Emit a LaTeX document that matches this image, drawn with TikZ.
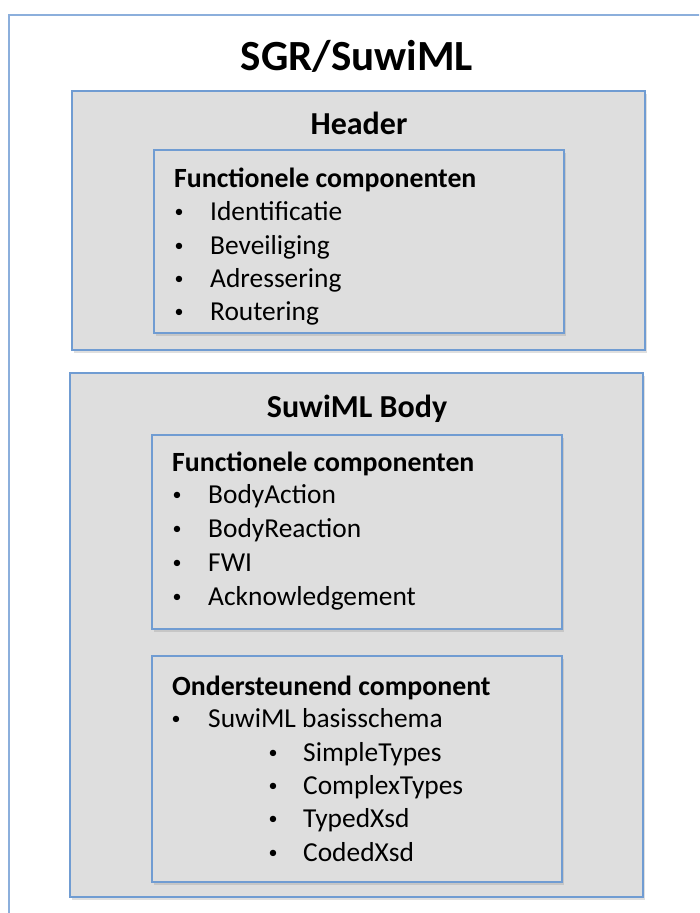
\documentclass[tikz,border=0pt]{standalone}
\usepackage{fontspec}
\setmainfont{Carlito}
\usetikzlibrary{shadows}
\definecolor{boxfill}{RGB}{222,222,222}
\definecolor{boxline}{RGB}{112,156,210}
\definecolor{outerline}{RGB}{140,175,220}
\tikzset{
  panel/.style={draw=boxline, line width=2pt, fill=boxfill, rectangle, inner sep=0pt,
    drop shadow={opacity=0.25, shadow xshift=2pt, shadow yshift=-3pt}},
  titletext/.style={font=\fontsize{43}{50}\selectfont\bfseries, anchor=base},
  headtext/.style={font=\fontsize{32}{38}\selectfont\bfseries, anchor=base},
  subhead/.style={font=\fontsize{27.8}{33}\selectfont\bfseries, anchor=base west, inner sep=0pt},
  itemtext/.style={font=\fontsize{27.4}{33}\selectfont, anchor=base west, inner sep=0pt},
  bul/.style={font=\fontsize{18}{20}\selectfont, anchor=base, inner sep=0pt, yshift=2.3pt},
}
\begin{document}
\begin{tikzpicture}[x=1pt,y=-1pt]
\useasboundingbox (0,0) rectangle (699,913);
\begin{scope}
\clip (0,0) rectangle (699,913);
\draw[outerline, line width=1.3pt, fill=white] (9,15) rectangle (760,960);
\end{scope}
\node[titletext] (title) at (357,70) {SGR/SuwiML};

% Header
\node[panel, minimum width=573pt, minimum height=259pt] (header) at (358.5,220.5) {};
\node[headtext] (headerlbl) at (359,134) {Header};
\node[panel, minimum width=410pt, minimum height=183pt] (hinner) at (359,241.5) {};
\node[subhead] (hfc) at (174,187) {Functionele componenten};
\node[bul] (hb1) at (179,220) {•};
\node[itemtext] (hi1) at (210,220) {Identificatie};
\node[bul] (hb2) at (179,254) {•};
\node[itemtext] (hi2) at (210,254) {Beveiliging};
\node[bul] (hb3) at (179,287) {•};
\node[itemtext] (hi3) at (210,287) {Adressering};
\node[bul] (hb4) at (179,320) {•};
\node[itemtext] (hi4) at (210,320) {Routering};

% Body
\node[panel, minimum width=573pt, minimum height=524pt] (body) at (356.5,635) {};
\node[headtext] (bodylbl) at (357,417) {SuwiML Body};
\node[panel, minimum width=410pt, minimum height=194pt] (binner1) at (357,532) {};
\node[subhead] (bfc) at (172,471) {Functionele componenten};
\node[bul] (bb1) at (177,503) {•};
\node[itemtext] (bi1) at (208,503) {BodyAction};
\node[bul] (bb2) at (177,537) {•};
\node[itemtext] (bi2) at (208,537) {BodyReaction};
\node[bul] (bb3) at (177,571) {•};
\node[itemtext] (bi3) at (208,571) {FWI};
\node[bul] (bb4) at (177,605) {•};
\node[itemtext] (bi4) at (208,605) {Acknowledgement};

\node[panel, minimum width=410pt, minimum height=226pt] (binner2) at (357,769) {};
\node[subhead] (boc) at (172,695) {Ondersteunend component};
\node[bul] (ob1) at (176,727) {•};
\node[itemtext] (oi1) at (208,727) {SuwiML basisschema};
\node[bul] (sb1) at (273,761) {•};
\node[itemtext] (si1) at (303,761) {SimpleTypes};
\node[bul] (sb2) at (273,794) {•};
\node[itemtext] (si2) at (303,794) {ComplexTypes};
\node[bul] (sb3) at (273,827) {•};
\node[itemtext] (si3) at (303,827) {TypedXsd};
\node[bul] (sb4) at (273,861) {•};
\node[itemtext] (si4) at (303,861) {CodedXsd};
\end{tikzpicture}
\end{document}
